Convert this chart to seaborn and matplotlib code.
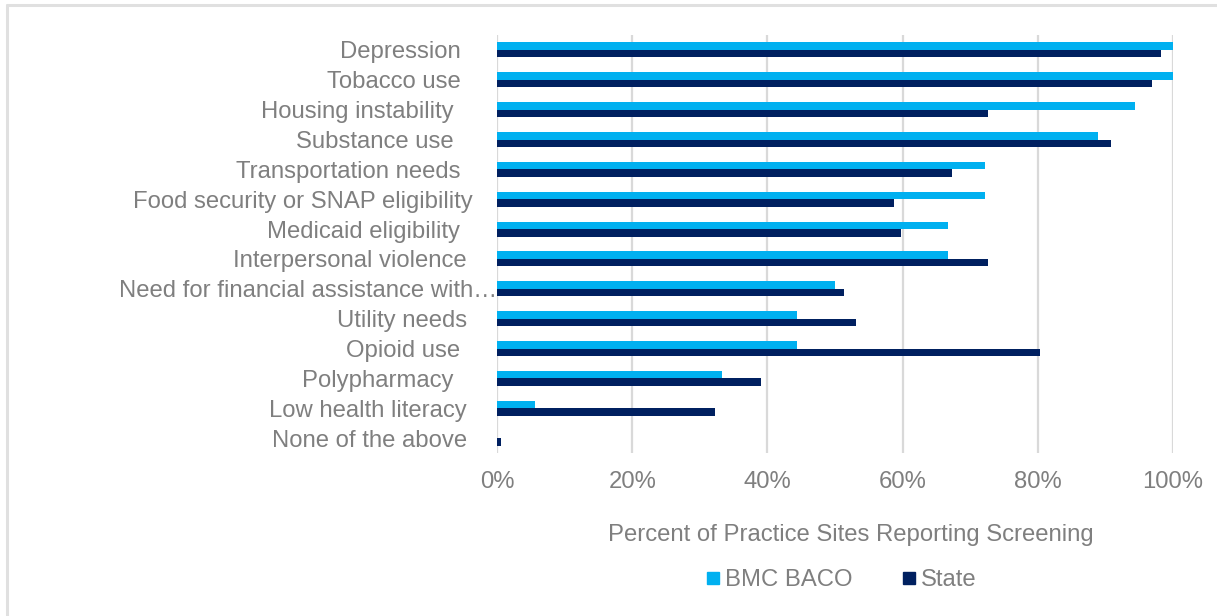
import matplotlib
matplotlib.use("Agg")
import matplotlib.pyplot as plt
import matplotlib.transforms as mtransforms
from matplotlib.lines import Line2D
import seaborn as sns
import pandas as pd

categories = [
    "Depression ", "Tobacco use ", "Housing instability  ", "Substance use  ",
    "Transportation needs ", "Food security or SNAP eligibility", "Medicaid eligibility ",
    "Interpersonal violence", "Need for financial assistance with\u2026", "Utility needs",
    "Opioid use ", "Polypharmacy  ", "Low health literacy", "None of the above",
]
bmc_baco = [100.0, 100.0, 94.4, 88.9, 72.2, 72.2, 66.7, 66.7, 50.0, 44.4, 44.4, 33.3, 5.6, 0.0]
state = [98.2, 96.9, 72.6, 90.9, 67.3, 58.8, 59.7, 72.6, 51.3, 53.1, 80.3, 39.1, 32.3, 0.6]
series_names = ["BMC BACO", "State"]
x_ticks = [0, 20, 40, 60, 80, 100]
x_label = "Percent of Practice Sites Reporting Screening"

colors = ["#00B0F0", "#002060"]
text_color = "#7F7F7F"
grid_color = "#D9D9D9"

df = pd.DataFrame({
    "category": categories * 2,
    "series": [series_names[0]] * len(categories) + [series_names[1]] * len(categories),
    "value": bmc_baco + state,
})

sns.set_theme(style="white")
plt.rcParams["font.family"] = ["Liberation Sans", "DejaVu Sans"]
fs = 17.2

W, H = 1217, 616
fig = plt.figure(figsize=(W / 100, H / 100), dpi=100)
ax = fig.add_axes([497 / W, 1 - 453 / H, (1173 - 497) / W, (453 - 35) / H])

sns.barplot(data=df, y="category", x="value", hue="series", order=categories,
            hue_order=series_names, palette=colors, saturation=1, orient="h", width=0.5,
            linewidth=0, legend=False, ax=ax)

ax.set_xlim(0, 100)
ax.set_ylim(len(categories) - 0.5, -0.5)
ax.set_xticks(x_ticks)
ax.set_xticklabels([f"{t}%" for t in x_ticks])
ax.grid(axis="x", color=grid_color, linewidth=1.6)
ax.grid(axis="y", visible=False)
ax.set_axisbelow(True)
for s in ["top", "right", "bottom", "left"]:
    ax.spines[s].set_visible(False)

ax.tick_params(axis="x", length=0, pad=13, labelsize=fs, labelcolor=text_color)
ax.tick_params(axis="y", length=0, pad=21.6, labelsize=fs, labelcolor=text_color)
ax.set_ylabel("")
ax.set_xlabel(x_label, fontsize=fs, color=text_color)
ax.xaxis.set_label_coords((851 - 497) / (1173 - 497), -(524 - 453) / (453 - 35))
ax.xaxis.label.set_va("top")

# shift long labels that overflow the label area
shifts = {"Food security or SNAP eligibility": 6, "Need for financial assistance with\u2026": 30}
for lab in ax.get_yticklabels():
    dx = shifts.get(lab.get_text(), 0)
    if dx:
        lab.set_transform(lab.get_transform() + mtransforms.ScaledTranslation(dx / 100, 0, fig.dpi_scale_trans))

handles = [Line2D([0], [0], marker="s", linestyle="none", markersize=8,
                  markerfacecolor=c, markeredgecolor=c) for c in colors]
fig.legend(handles, series_names, loc="center", bbox_to_anchor=(840 / W, 1 - 580 / H),
           ncol=2, frameon=False, fontsize=fs, labelcolor=text_color,
           handletextpad=0.1, columnspacing=2.0, handlelength=0.8)

# outer frame lines (top and left)
fig.add_artist(Line2D([7 / W, 1], [1 - 4.5 / H, 1 - 4.5 / H], transform=fig.transFigure,
                      color="#E0E0E0", linewidth=2.2))
fig.add_artist(Line2D([7 / W, 7 / W], [0, 1 - 4.5 / H], transform=fig.transFigure,
                      color="#E0E0E0", linewidth=2.2))

fig.savefig("out.png", dpi=100, facecolor="white")
